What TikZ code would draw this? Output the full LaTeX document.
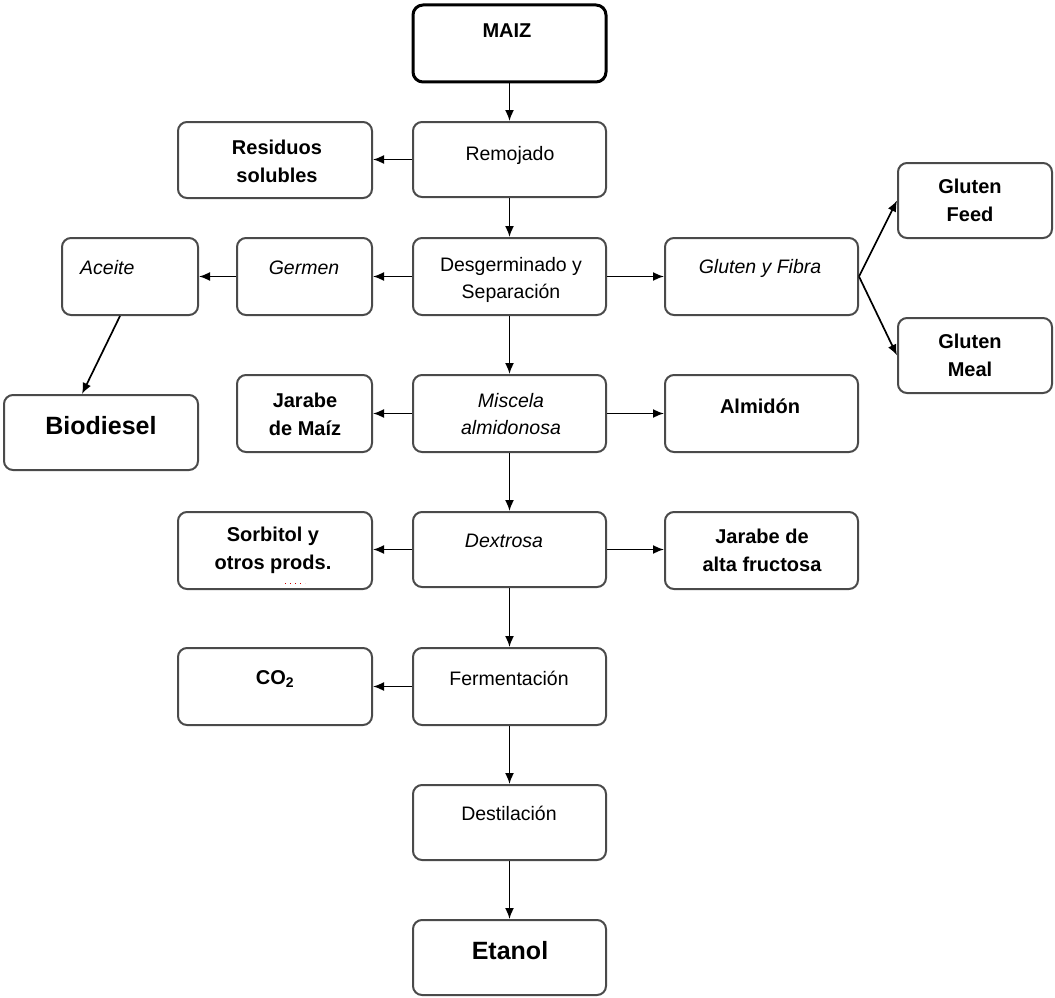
\documentclass[tikz,border=0pt]{standalone}
\usepackage{fontspec}
\setmainfont{Liberation Sans}
\usetikzlibrary{arrows.meta}
\definecolor{boxgray}{HTML}{4A4A4A}
\begin{document}
\begin{tikzpicture}[x=1pt,y=-1pt,
  box/.style={draw=boxgray,line width=2pt,rounded corners=9pt,inner sep=0pt,fill=white},
  thickbox/.style={draw=black,line width=3pt,rounded corners=10pt,inner sep=0pt,fill=white},
  txt/.style={align=center,inner sep=0pt,font=\fontsize{19.5}{27}\selectfont},
  itxt/.style={txt,font=\fontsize{19.5}{27}\selectfont\itshape},
  btxt/.style={txt,font=\fontsize{20}{28}\selectfont\bfseries},
  bigtxt/.style={txt,font=\fontsize{25}{30}\selectfont\bfseries},
  arr/.style={draw=black,line width=1.7pt,-{Latex[length=11pt,width=9pt]}}
]
\useasboundingbox (0,0) rectangle (1055,998);
% boxes
\node[thickbox,minimum width=193pt,minimum height=77pt] (maiz) at (509.5,43.5) {};
\node[box,minimum width=193pt,minimum height=75pt] (remojado) at (509.5,159.5) {};
\node[box,minimum width=194pt,minimum height=76pt] (residuos) at (275,160) {};
\node[box,minimum width=193pt,minimum height=77pt] (desger) at (509.5,276.5) {};
\node[box,minimum width=135pt,minimum height=77pt] (germen) at (304.5,276.5) {};
\node[box,minimum width=136pt,minimum height=77pt] (aceite) at (130,276.5) {};
\node[box,minimum width=194pt,minimum height=75pt] (biodiesel) at (101,432.5) {};
\node[box,minimum width=193pt,minimum height=77pt] (gyf) at (761.5,276.5) {};
\node[box,minimum width=154pt,minimum height=75pt] (gfeed) at (975,200.5) {};
\node[box,minimum width=154pt,minimum height=75pt] (gmeal) at (975,355.5) {};
\node[box,minimum width=193pt,minimum height=77pt] (miscela) at (509.5,413.5) {};
\node[box,minimum width=135pt,minimum height=77pt] (jarabe) at (304.5,413.5) {};
\node[box,minimum width=193pt,minimum height=77pt] (almidon) at (761.5,413.5) {};
\node[box,minimum width=193pt,minimum height=75pt] (dextrosa) at (509.5,549.5) {};
\node[box,minimum width=194pt,minimum height=77pt] (sorbitol) at (275,550.5) {};
\node[box,minimum width=193pt,minimum height=77pt] (jaf) at (761.5,550.5) {};
\node[box,minimum width=194pt,minimum height=77pt] (co2) at (275,686.5) {};
\node[box,minimum width=193pt,minimum height=77pt] (ferm) at (509.5,686.5) {};
\node[box,minimum width=193pt,minimum height=75pt] (destil) at (509.5,822.5) {};
\node[box,minimum width=193pt,minimum height=75pt] (etanol) at (509.5,957.5) {};
% texts
\node[btxt] (t-maiz) at (507,31) {MAIZ};
\node[txt] (t-remojado) at (510,155) {Remojado};
\node[btxt] (t-residuos) at (277,161) {Residuos\\solubles};
\node[txt] (t-desger) at (511,280) {Desgerminado y\\Separación};
\node[itxt] (t-germen) at (304,268) {Germen};
\node[itxt,anchor=west] (t-aceite) at (80,268) {Aceite};
\node[bigtxt] (t-biodiesel) at (101,426) {Biodiesel};
\node[itxt] (t-gyf) at (760,268) {Gluten y Fibra};
\node[btxt] (t-gfeed) at (970,200) {Gluten\\Feed};
\node[btxt] (t-gmeal) at (970,355) {Gluten\\Meal};
\node[itxt] (t-miscela) at (511,414) {Miscela\\almidonosa};
\node[btxt] (t-jarabe) at (305,414) {Jarabe\\de Maíz};
\node[btxt] (t-almidon) at (760,406) {Almidón};
\node[itxt] (t-dextrosa) at (504,541) {Dextrosa};
\node[btxt] (t-sorbitol) at (273,550) {Sorbitol y\\otros prods.};
\node[btxt] (t-jaf) at (762,550) {Jarabe de\\alta fructosa};
\node[btxt] (t-co2) at (275,679) {CO\textsubscript{2}};
\node[txt] (t-ferm) at (509,678) {Fermentación};
\node[txt] (t-destil) at (509,813) {Destilación};
\node[bigtxt] (t-etanol) at (510,951) {Etanol};
% spelling underline
\draw[red!80!black,line width=1pt,dash pattern=on 1pt off 4pt] (285,583) -- (305,583);
% arrows
\draw[arr] (maiz.south) -- (remojado.north);
\draw[arr] (remojado.west) -- (residuos.east |- remojado.west);
\draw[arr] (remojado.south) -- (desger.north);
\draw[arr] (desger.west) -- (germen.east);
\draw[arr] (germen.west) -- (aceite.east);
\draw[arr] (desger.east) -- (gyf.west);
\draw[arr] (gyf.east) -- (gfeed.west);
\draw[arr] (gyf.east) -- (gmeal.west);
\draw[arr] ([xshift=-10pt]aceite.south) -- ([xshift=-19pt]biodiesel.north);
\draw[arr] (desger.south) -- (miscela.north);
\draw[arr] (miscela.west) -- (jarabe.east);
\draw[arr] (miscela.east) -- (almidon.west);
\draw[arr] (miscela.south) -- (dextrosa.north);
\draw[arr] (dextrosa.west) -- (sorbitol.east |- dextrosa.west);
\draw[arr] (dextrosa.east) -- (jaf.west |- dextrosa.east);
\draw[arr] (dextrosa.south) -- (ferm.north);
\draw[arr] (ferm.west) -- (co2.east);
\draw[arr] (ferm.south) -- (destil.north);
\draw[arr] (destil.south) -- (etanol.north);
\end{tikzpicture}
\end{document}
